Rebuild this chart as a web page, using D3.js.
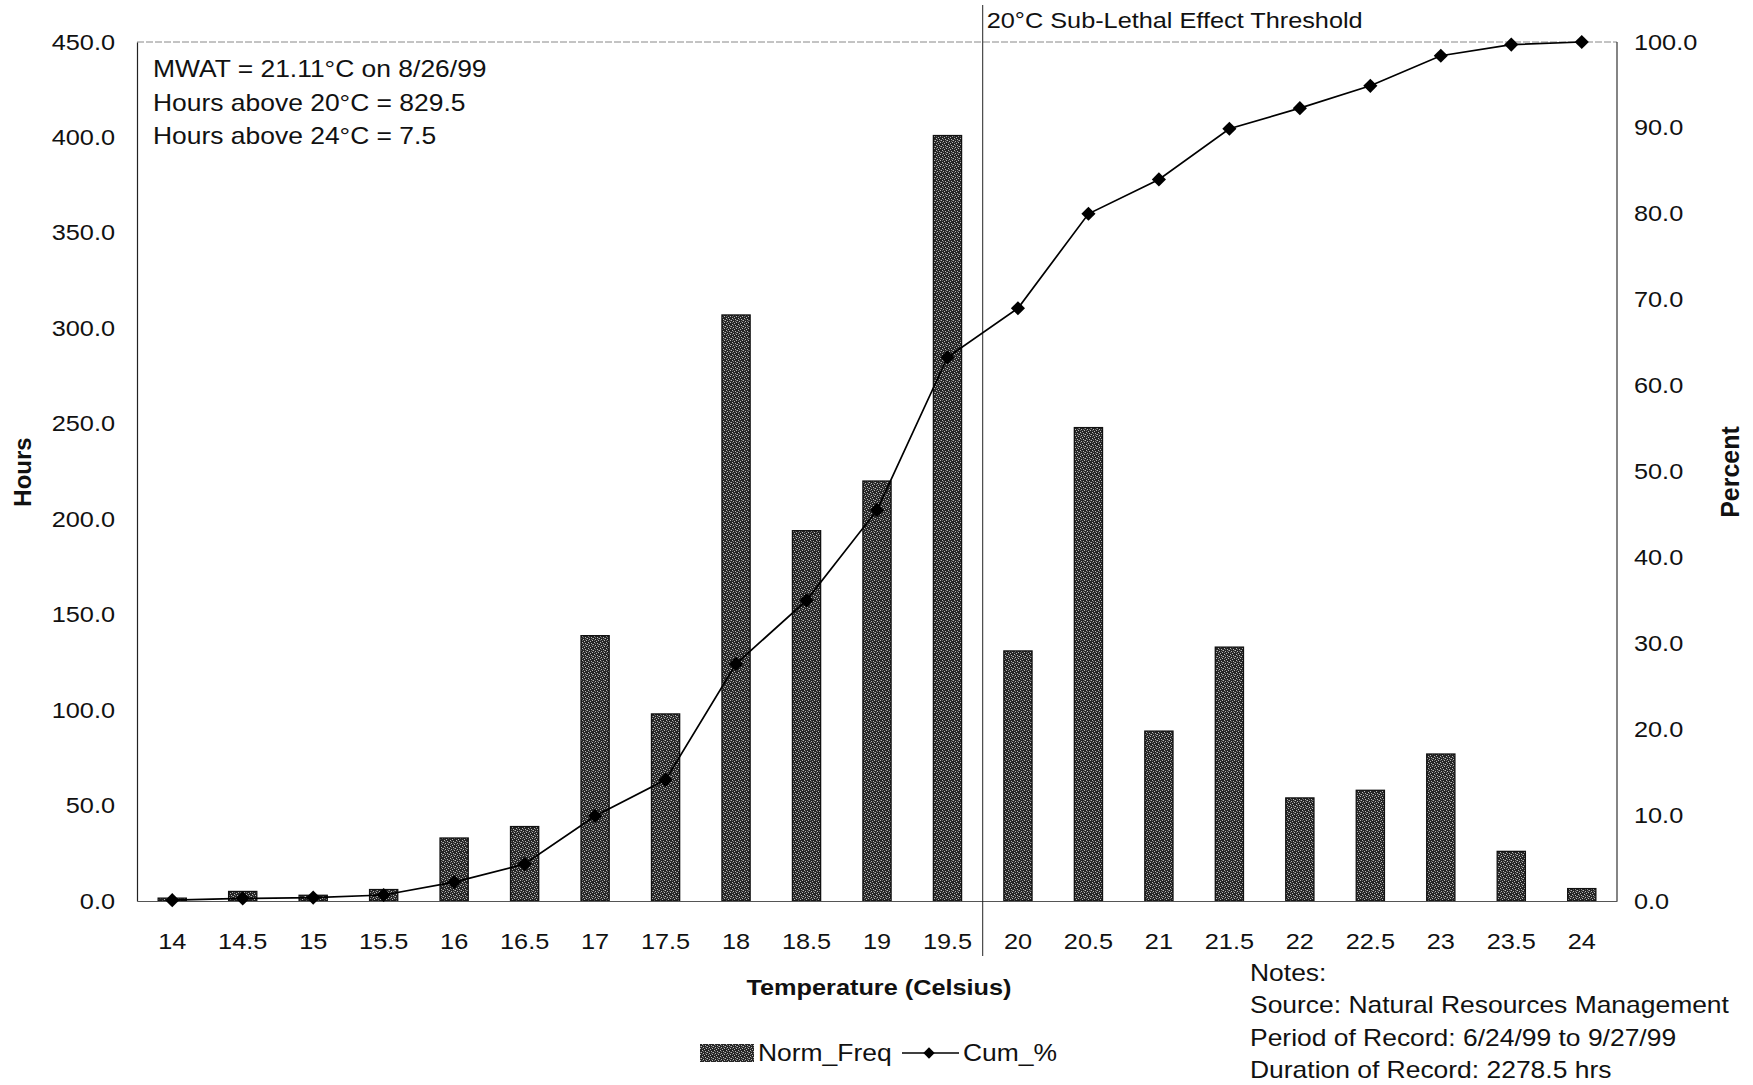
<!DOCTYPE html>
<html>
<head>
<meta charset="utf-8">
<script src="https://cdn.jsdelivr.net/npm/d3@7"></script>
<style>
  html, body { margin: 0; padding: 0; background: #fff; }
  svg { display: block; font-family: "Liberation Sans", Arial, sans-serif; }
</style>
</head>
<body>
<svg id="chart" width="1753" height="1085"></svg>
<script>
// ---- data ----
const categories = ["14","14.5","15","15.5","16","16.5","17","17.5","18","18.5","19","19.5","20","20.5","21","21.5","22","22.5","23","23.5","24"];
const normFreq = [1.5, 5, 3, 6, 33, 39, 139, 98, 307, 194, 220, 401, 131, 248, 89, 133, 54, 58, 77, 26, 6.5];
const cumPct = [0.1, 0.3, 0.4, 0.7, 2.2, 4.3, 9.9, 14.1, 27.6, 35.0, 45.5, 63.3, 69.0, 80.0, 84.0, 89.9, 92.3, 94.9, 98.4, 99.7, 100.0];
const leftTicks = [0, 50, 100, 150, 200, 250, 300, 350, 400, 450];
const rightTicks = [0, 10, 20, 30, 40, 50, 60, 70, 80, 90, 100];
const infoLines = ["MWAT = 21.11°C on 8/26/99", "Hours above 20°C = 829.5", "Hours above 24°C = 7.5"];
const noteLines = ["Notes:", "Source: Natural Resources Management", "Period of Record: 6/24/99 to 9/27/99", "Duration of Record: 2278.5 hrs"];
const thresholdCategory = "19.5";
const thresholdLabel = "20°C Sub-Lethal Effect Threshold";

// ---- layout ----
const L = 137, R = 1617, T = 42, B = 901;
const SX = 1.15; // horizontal stretch of the lettering in the reference
const svg = d3.select("#chart");

function txt(parent, x, y, s, size, opts = {}) {
  return parent.append("text")
    .attr("transform", `translate(${x},${y}) scale(${SX},1)`)
    .attr("font-size", size)
    .attr("font-weight", opts.bold ? "bold" : "normal")
    .attr("text-anchor", opts.anchor || "start")
    .attr("fill", "#111")
    .text(s);
}

// pattern for stippled bars
const defs = svg.append("defs");
const pat = defs.append("pattern").attr("id", "stipple").attr("patternUnits", "userSpaceOnUse")
  .attr("width", 6).attr("height", 6);
pat.append("rect").attr("width", 6).attr("height", 6).attr("fill", "#262626");
[[0,0],[3,1],[1,3],[4,4],[2,5],[5,2]].forEach(([a,b]) =>
  pat.append("rect").attr("x", a).attr("y", b).attr("width", 1).attr("height", 1).attr("fill", "#b8b8b8"));
[[1,1],[4,2],[0,4],[3,3]].forEach(([a,b]) =>
  pat.append("rect").attr("x", a).attr("y", b).attr("width", 1).attr("height", 1).attr("fill", "#6a6a6a"));

const x = d3.scaleBand().domain(categories).range([L, R]).paddingInner(0.6).paddingOuter(0.3);
const yL = d3.scaleLinear().domain([0, 450]).range([B, T]);
const yR = d3.scaleLinear().domain([0, 100]).range([B, T]);
const cx = c => x(c) + x.bandwidth() / 2;

// frame
svg.append("line").attr("x1", L).attr("x2", R).attr("y1", T).attr("y2", T)
  .attr("stroke", "#888").attr("stroke-width", 1).attr("stroke-dasharray", "7,2");
svg.append("line").attr("x1", R).attr("x2", R).attr("y1", T).attr("y2", B)
  .attr("stroke", "#333").attr("stroke-width", 1.2);

// bars
svg.append("g").selectAll("rect").data(categories).join("rect")
  .attr("x", d => x(d))
  .attr("y", (d, i) => yL(normFreq[i]))
  .attr("width", x.bandwidth())
  .attr("height", (d, i) => B - yL(normFreq[i]))
  .attr("fill", "url(#stipple)")
  .attr("stroke", "#111").attr("stroke-width", 1.3);

// axes
const axL = d3.axisLeft(yL).tickValues(leftTicks).tickFormat(d3.format(".1f")).tickSize(0).tickPadding(22 / SX);
const gL = svg.append("g").attr("transform", `translate(${L},0)`).call(axL);
gL.select(".domain").attr("stroke", "#222").attr("stroke-width", 1.2);
gL.selectAll("text").attr("font-size", 22).attr("fill", "#111")
  .attr("font-family", "Liberation Sans, Arial, sans-serif").attr("transform", `scale(${SX},1)`);

const axR = d3.axisRight(yR).tickValues(rightTicks).tickFormat(d3.format(".1f")).tickSize(0).tickPadding(17 / SX);
const gR = svg.append("g").attr("transform", `translate(${R},0)`).call(axR);
gR.select(".domain").remove();
gR.selectAll("text").attr("font-size", 22).attr("fill", "#111")
  .attr("font-family", "Liberation Sans, Arial, sans-serif").attr("transform", `scale(${SX},1)`);

const axB = d3.axisBottom(x).tickSize(0).tickPadding(32);
const gB = svg.append("g").attr("transform", `translate(0,${B})`).call(axB);
gB.select(".domain").attr("stroke", "#555").attr("stroke-width", 1.2);
gB.selectAll("text").attr("font-size", 22).attr("fill", "#111")
  .attr("font-family", "Liberation Sans, Arial, sans-serif").attr("transform", `scale(${SX},1)`)
  .attr("x", 0);
gB.selectAll(".tick").each(function () {
  const t = d3.select(this);
  const m = /translate\(([^,]+),/.exec(t.attr("transform"));
  if (m) t.select("text").attr("x", 0);
});

// threshold line
const tx = cx(thresholdCategory) + x.step() / 2;
svg.append("line").attr("x1", tx).attr("x2", tx).attr("y1", 5).attr("y2", 956)
  .attr("stroke", "#222").attr("stroke-width", 1);
txt(svg, tx + 4, 28, thresholdLabel, 22);

// cumulative line
const line = d3.line().x((d, i) => cx(categories[i])).y(d => yR(d));
svg.append("path").datum(cumPct).attr("d", line).attr("fill", "none").attr("stroke", "#000").attr("stroke-width", 1.7);
svg.append("g").selectAll("path").data(cumPct).join("path")
  .attr("d", d3.symbol(d3.symbolSquare, 100))
  .attr("transform", (d, i) => `translate(${cx(categories[i])},${yR(d)}) rotate(45)`)
  .attr("fill", "#000");

// info text
const gi = svg.append("g");
infoLines.forEach((s, i) => txt(gi, 153, 77 + i * 33.5, s, 23));

// axis titles
svg.append("text").attr("transform", "translate(31,472) rotate(-90)").attr("text-anchor", "middle")
  .attr("font-size", 24).attr("font-weight", "bold").attr("fill", "#111").text("Hours");
svg.append("text").attr("transform", "translate(1739,472) rotate(-90)").attr("text-anchor", "middle")
  .attr("font-size", 25).attr("font-weight", "bold").attr("fill", "#111").text("Percent");
txt(svg, 879, 995, "Temperature (Celsius)", 22, { bold: true, anchor: "middle" });

// legend
const lg = svg.append("g");
lg.append("rect").attr("x", 700).attr("y", 1044).attr("width", 54).attr("height", 18)
  .attr("fill", "url(#stipple)");
txt(lg, 758, 1061, "Norm_Freq", 23);
lg.append("line").attr("x1", 902).attr("x2", 959).attr("y1", 1053).attr("y2", 1053).attr("stroke", "#000").attr("stroke-width", 1.6);
lg.append("path").attr("d", d3.symbol(d3.symbolSquare, 64)).attr("transform", "translate(929,1053) rotate(45)").attr("fill", "#000");
txt(lg, 963, 1061, "Cum_%", 23);

// notes
const gn = svg.append("g");
noteLines.forEach((s, i) => txt(gn, 1250, 981 + i * 32.4, s, 23));
</script>
</body>
</html>
